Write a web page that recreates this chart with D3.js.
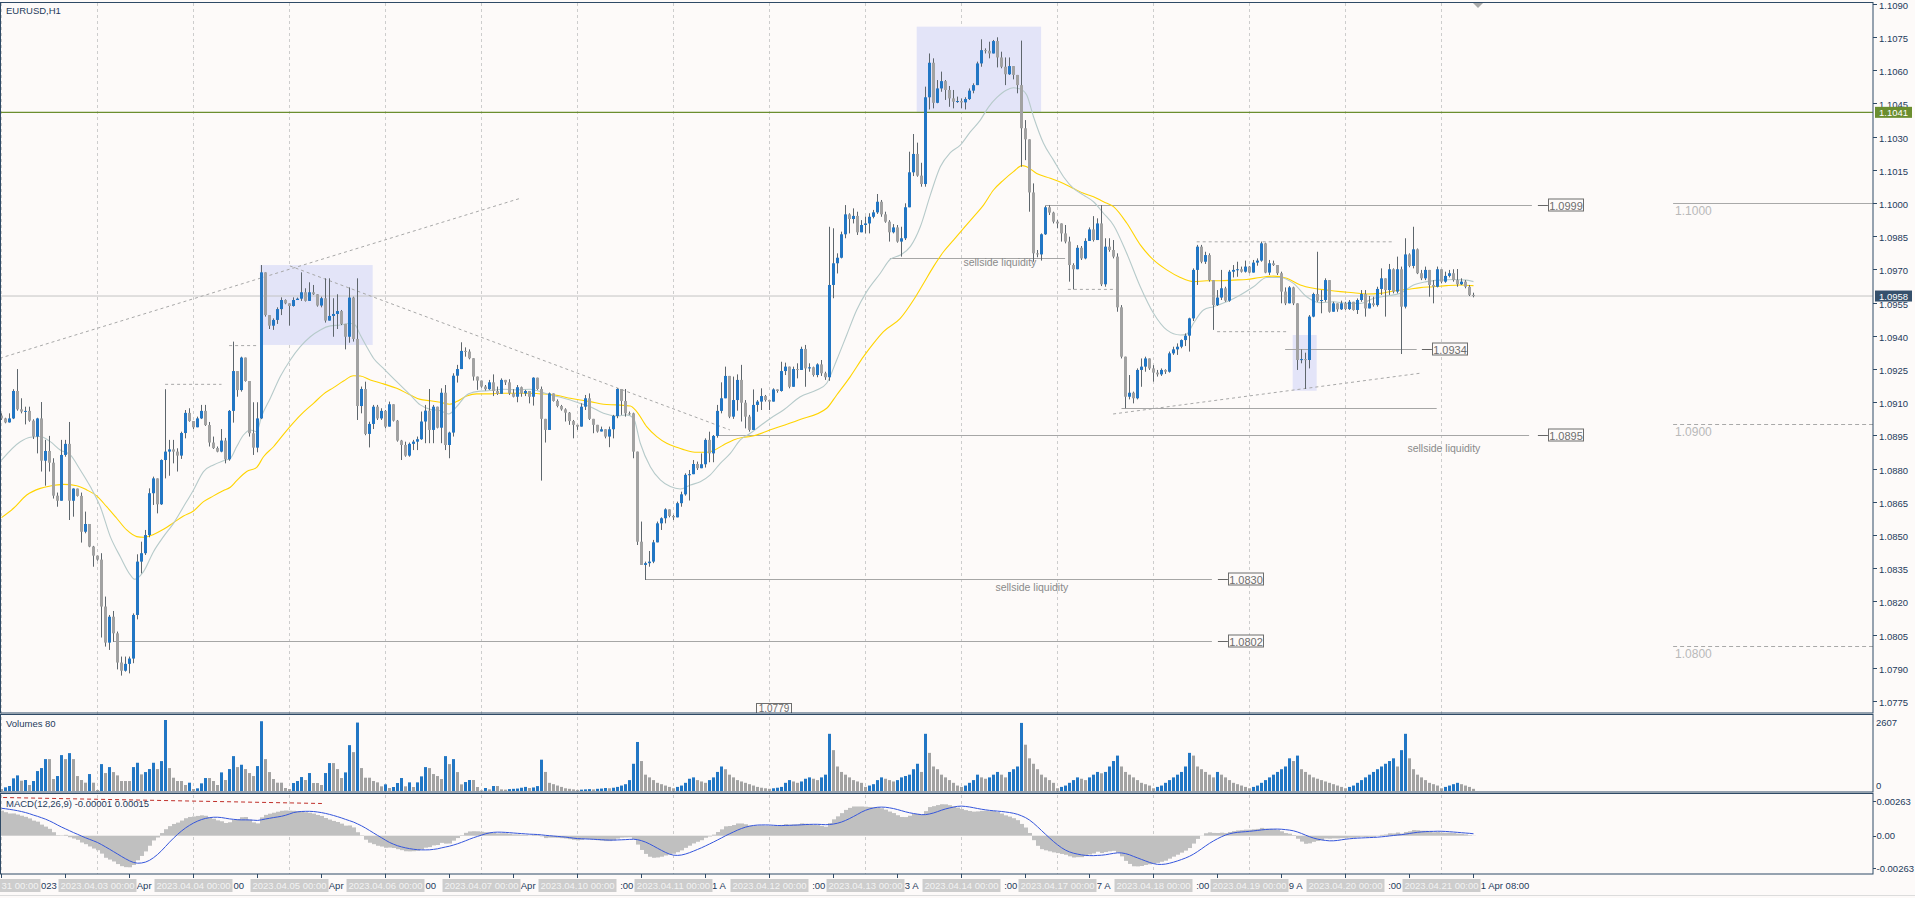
<!DOCTYPE html>
<html><head><meta charset="utf-8"><title>EURUSD,H1</title>
<script src="https://cdn.jsdelivr.net/npm/d3@7/dist/d3.min.js"></script>
<style>
html,body{margin:0;padding:0;background:#fdfaf9;overflow:hidden;}
svg{display:block;}
text{font-family:"Liberation Sans",Arial,sans-serif;}
</style></head><body>
<svg id="chart" width="1915" height="898"></svg>
<script>
// ================= DATA (prices in pips above 1.0000, e.g. 958.0 = 1.09580) =================
const symbolTitle = "EURUSD,H1";
const dayLabels = ["2023.03.31","2023.04.03","2023.04.04","2023.04.05","2023.04.06","2023.04.07","2023.04.10","2023.04.11","2023.04.12","2023.04.13","2023.04.14","2023.04.17","2023.04.18","2023.04.19","2023.04.20","2023.04.21"];
const timeTickLabels = ["31 Mar 2023","31 Mar 16:00","3 Apr 08:00","4 Apr 00:00","4 Apr 16:00","5 Apr 08:00","6 Apr 00:00","6 Apr 16:00","7 Apr 08:00","10 Apr 00:00","10 Apr 16:00","11 Apr 08:00","12 Apr 00:00","12 Apr 16:00","13 Apr 08:00","14 Apr 00:00","14 Apr 16:00","17 Apr 08:00","18 Apr 00:00","18 Apr 16:00","19 Apr 08:00","20 Apr 00:00","20 Apr 16:00","21 Apr 08:00"];
const firstOpen = 904.0;
const closes = [
902.7,900.9,902.7,915.1,906.8,905.8,906.1,901.7,894.5,902.7,
883.6,888.0,882.7,867.8,865.5,886.2,891.2,865.5,871.0,867.7,
851.5,855.0,844.8,840.7,838.9,817.7,801.4,813.1,805.6,792.4,
788.7,791.8,794.2,813.9,838.0,841.8,850.0,868.9,875.6,863.9,
883.9,887.7,888.7,887.7,885.9,896.1,905.2,901.5,898.7,902.7,
906.1,899.7,891.8,889.3,887.7,892.7,884.2,906.1,924.1,915.5,
930.2,919.6,896.0,889.5,902.7,968.7,949.4,944.6,947.2,952.1,
956.2,954.7,953.5,956.2,956.8,959.7,955.8,959.7,958.8,953.7,
957.0,946.9,949.0,949.9,951.2,945.4,939.6,957.3,938.6,908.3,
916.0,895.7,900.2,908.0,902.7,906.1,899.0,909.1,901.7,892.7,
890.7,885.9,891.2,892.2,893.3,901.3,906.2,897.5,908.0,898.5,
914.3,890.7,896.3,922.0,925.0,933.2,932.9,929.9,921.6,919.8,
917.1,915.9,919.0,915.1,913.8,920.1,919.0,914.0,912.5,916.8,
914.0,915.1,912.5,921.1,916.0,902.5,897.5,914.0,910.6,908.3,
906.8,905.3,901.5,899.8,899.0,908.0,911.8,902.5,899.8,896.8,
897.8,894.5,897.8,903.8,916.0,910.6,905.0,905.0,887.7,847.0,
836.5,837.3,838.0,846.7,855.3,857.6,861.6,858.6,858.0,864.4,
868.4,877.2,877.5,882.1,880.2,882.0,893.0,886.9,894.8,906.1,
911.8,921.9,903.5,911.0,920.1,909.8,903.5,897.5,908.8,910.3,
912.8,911.0,910.3,915.8,915.1,924.1,926.1,917.0,925.0,924.6,
934.1,925.3,925.8,922.3,927.1,923.1,921.3,963.0,972.8,975.3,
985.9,994.9,992.8,994.2,986.8,990.1,990.8,993.8,995.8,1000.6,
994.9,991.6,986.8,989.0,982.6,984.1,998.1,1013.9,1022.2,1012.4,
1008.6,1047.8,1063.4,1045.3,1051.8,1055.1,1051.1,1047.3,1045.8,1046.1,
1045.5,1047.0,1050.8,1053.3,1063.1,1069.1,1068.8,1067.6,1073.2,1065.8,
1061.6,1058.2,1061.9,1057.9,1053.3,1033.8,1028.8,1004.8,977.3,976.8,
985.9,998.1,995.7,991.6,990.8,986.3,982.6,972.0,970.1,979.8,
975.0,982.9,988.1,983.3,990.8,963.3,980.3,978.8,975.8,952.9,
930.6,912.5,914.3,911.8,924.6,926.1,929.8,925.3,923.4,922.6,
924.6,923.8,932.1,933.9,935.1,938.1,940.1,947.9,969.8,980.3,
973.5,976.5,965.2,953.9,957.3,961.5,955.9,969.0,969.8,970.1,
969.0,971.3,968.6,973.1,974.0,981.8,968.6,972.8,972.0,968.3,
960.0,954.7,961.9,954.7,929.1,929.5,929.1,948.7,958.9,955.9,
956.2,965.2,950.9,954.7,952.0,954.7,952.1,955.4,951.7,956.2,
958.9,952.4,954.7,953.9,961.2,966.0,960.7,970.1,960.0,970.1,
953.2,976.8,971.6,979.1,968.3,966.0,969.8,963.0,962.2,970.1,
964.5,967.1,968.3,965.2,963.3,964.5,962.2,958.5,958.0];
const highs = [
905.0,903.0,905.0,915.9,925.0,911.8,908.0,908.0,902.3,903.0,
910.1,893.0,894.8,884.7,869.2,893.0,893.0,901.1,871.1,871.0,
869.2,860.6,855.0,845.1,839.5,841.8,822.2,813.9,815.7,806.4,
795.1,795.1,795.1,814.6,841.3,847.0,852.3,871.1,876.4,875.2,
884.2,915.9,893.0,893.0,889.2,896.7,906.5,907.3,900.8,903.5,
908.8,908.8,901.1,894.5,890.0,897.9,893.9,906.5,937.4,922.8,
930.6,930.2,919.0,910.0,910.0,972.0,968.0,949.1,947.9,952.9,
957.4,956.5,954.7,957.4,957.3,968.7,961.5,964.2,963.0,958.5,
957.7,966.0,966.0,957.0,958.8,951.7,945.4,961.9,957.7,966.0,
917.1,919.3,901.2,908.8,908.8,907.3,906.5,910.3,909.1,902.0,
893.0,892.2,891.8,893.0,894.5,905.8,908.8,916.0,908.8,908.0,
916.3,917.8,896.7,923.1,926.9,937.1,934.8,933.9,929.9,921.6,
917.8,917.8,920.1,922.6,917.1,920.8,920.1,920.4,915.9,917.8,
917.1,915.6,915.1,921.3,921.1,917.1,902.5,914.4,913.6,911.3,
908.8,907.3,905.6,902.0,899.8,909.5,913.3,914.0,902.0,898.7,
899.0,897.5,899.0,904.3,916.3,916.0,916.0,905.8,905.3,887.7,
856.1,838.0,842.8,847.8,856.1,858.0,862.1,861.6,859.1,865.1,
869.6,877.9,879.4,883.9,883.2,886.9,893.7,896.7,895.2,908.8,
919.0,926.1,921.9,921.6,922.6,926.9,911.0,904.3,915.8,911.0,
916.3,913.3,911.0,916.3,915.8,928.3,927.9,926.1,926.1,927.6,
935.1,935.9,927.6,926.1,927.6,929.1,923.8,989.3,988.6,977.3,
987.1,999.1,995.4,997.6,996.1,992.3,993.9,995.4,996.9,1004.1,
1001.4,996.1,992.3,990.5,990.1,989.3,999.9,1023.2,1031.2,1027.3,
1018.2,1052.6,1067.6,1065.4,1055.6,1059.4,1055.6,1052.9,1051.1,1048.1,
1047.3,1047.8,1051.8,1054.1,1063.9,1074.0,1069.9,1072.9,1073.7,1074.9,
1068.4,1065.8,1065.8,1061.9,1057.9,1073.4,1037.5,1020.2,1008.9,978.8,
986.3,998.7,999.1,996.1,992.3,990.1,990.1,984.8,972.8,981.0,
980.6,984.1,989.0,994.1,993.1,999.1,984.1,984.1,983.3,977.3,
953.9,930.6,922.3,914.8,925.3,929.8,930.6,929.8,926.8,924.6,
925.3,924.9,932.9,935.1,936.6,938.4,941.1,948.2,970.5,981.1,
981.1,978.0,977.3,965.2,960.7,969.8,962.2,969.8,972.0,973.5,
971.3,974.0,971.6,974.3,975.0,982.6,982.1,974.3,974.0,972.0,
969.0,961.9,962.5,962.2,954.7,933.9,932.4,949.4,959.5,978.0,
960.7,966.0,965.2,955.4,954.7,955.9,955.4,956.2,955.4,956.9,
960.7,960.7,958.0,957.7,962.2,970.5,966.0,972.5,970.5,975.8,
971.3,984.1,977.3,989.3,979.5,969.8,971.3,969.8,965.2,971.3,
970.1,969.0,969.8,970.1,970.2,966.0,965.2,963.0,959.5];
const lows = [
902.0,900.5,900.8,902.4,906.2,905.0,900.0,901.2,893.4,886.9,
878.7,872.3,878.7,866.5,862.8,865.5,885.4,856.8,858.3,867.4,
846.6,850.8,844.5,835.7,838.4,803.7,799.6,798.1,801.8,789.3,
786.5,788.3,787.5,792.1,811.9,832.7,841.0,849.0,863.6,859.8,
863.6,875.6,876.8,882.4,878.7,884.4,893.7,901.2,897.9,899.4,
902.4,899.3,890.0,888.9,887.4,887.4,882.4,883.6,900.8,912.5,
914.8,919.3,894.5,886.2,887.4,902.4,948.7,943.1,942.7,945.4,
949.4,954.3,944.6,953.2,956.5,955.8,955.5,956.2,958.5,953.2,
952.9,946.0,946.9,939.6,943.1,944.9,933.9,936.9,937.4,902.0,
905.0,895.1,889.6,897.9,902.0,902.0,898.2,899.0,901.3,892.2,
883.9,885.4,885.4,888.4,888.4,893.0,891.5,891.5,891.5,898.2,
891.5,888.4,884.7,894.5,918.9,925.3,930.6,929.4,919.8,915.6,
916.6,915.3,915.6,912.8,913.3,916.3,917.8,913.3,912.2,910.0,
912.5,912.8,909.5,908.5,915.6,874.6,891.8,897.5,910.3,907.7,
906.2,901.3,899.8,893.7,897.5,900.5,906.5,902.0,896.0,896.3,
897.2,893.7,889.7,893.7,902.8,904.3,903.5,904.3,884.7,845.5,
836.5,829.7,835.7,837.3,847.0,852.3,855.3,858.0,856.8,858.8,
862.8,867.8,865.6,877.6,879.4,880.2,880.5,882.9,882.9,894.0,
905.0,912.5,902.8,902.5,906.2,901.3,898.2,896.7,902.0,905.7,
906.5,910.3,906.5,910.3,914.3,914.8,922.3,916.3,920.1,920.8,
925.3,917.0,923.8,921.6,921.3,921.9,920.1,919.7,957.0,968.2,
975.0,984.1,986.3,990.8,985.6,987.5,986.3,986.3,993.1,995.1,
993.8,991.1,982.6,986.3,982.1,975.8,983.3,1012.7,1012.2,1011.9,
1007.4,1007.4,1042.3,1042.8,1045.1,1050.3,1046.6,1043.5,1042.8,1045.3,
1042.8,1042.3,1046.6,1049.6,1053.3,1061.6,1067.6,1065.4,1067.6,1061.3,
1060.9,1053.3,1057.9,1055.9,1049.6,1016.4,1019.4,996.1,973.5,975.5,
974.0,985.6,994.6,990.8,988.6,982.6,981.8,964.5,961.0,970.1,
974.3,974.6,983.3,982.6,984.1,962.5,962.2,978.0,975.0,950.9,
929.8,907.3,911.3,909.5,911.3,917.0,923.8,924.6,919.3,921.6,
921.9,922.8,923.4,931.4,931.4,934.4,935.4,932.9,946.7,963.0,
972.8,972.5,964.5,942.7,953.5,956.2,955.4,955.4,966.4,966.7,
968.6,968.6,968.3,970.5,971.7,973.5,968.3,967.5,971.6,967.5,
954.7,953.9,954.7,953.9,924.6,927.6,916.0,925.3,948.4,955.4,
950.2,955.4,950.5,951.7,950.9,951.7,951.7,951.7,951.4,949.9,
955.4,948.7,953.2,953.2,953.2,958.5,948.7,958.5,959.2,959.2,
931.8,952.4,971.0,970.5,967.9,965.2,965.2,957.7,954.7,961.9,
963.7,964.0,966.4,964.5,962.2,963.0,961.5,958.0,957.4];
const volumes = [
73,134,183,464,573,378,403,220,366,732,
842,1171,1171,439,549,1318,1171,1391,1171,549,
403,305,622,305,37,988,659,878,695,573,
366,366,366,878,1037,610,695,805,1037,805,
1098,2607,842,488,366,366,220,305,73,98,
281,476,476,366,220,683,403,805,1281,878,
964,805,659,549,915,2562,1171,695,439,305,
305,110,73,293,366,512,403,659,293,293,
220,659,1025,1025,805,476,683,1684,1427,2513,
842,488,488,366,317,171,244,110,146,293,
476,171,317,146,317,537,878,842,622,549,
439,1281,988,1171,695,244,329,403,403,146,
24,110,61,183,183,60,50,70,80,90,
120,150,110,130,180,1150,700,300,250,200,
150,100,80,60,40,50,60,70,60,80,
90,110,100,120,150,200,250,400,1000,1800,
1100,600,500,400,300,250,200,150,100,150,
200,300,450,500,400,350,300,400,500,700,
900,800,600,500,400,350,300,250,200,150,
120,100,80,100,120,150,300,400,350,300,
350,450,500,450,400,500,600,2100,1500,900,
700,600,500,400,350,300,150,200,250,400,
500,450,400,350,400,500,550,600,800,1000,
700,2100,1400,900,800,600,500,400,300,200,
150,200,300,400,600,500,450,500,600,700,
600,500,700,800,900,2500,1700,1200,1000,800,
600,500,400,300,100,150,200,300,400,500,
450,400,500,600,700,650,700,900,1100,1300,
900,700,600,500,400,300,250,200,100,150,
200,300,400,500,600,700,900,1400,1300,900,
800,700,600,500,700,600,500,400,300,250,
200,150,100,150,200,300,400,500,600,700,
800,900,1200,1100,1300,800,700,600,500,450,
400,350,300,250,200,150,100,150,200,300,
400,500,600,700,800,900,1000,1100,1200,900,
1500,2100,1200,800,600,500,400,300,250,200,
100,150,200,250,300,250,200,150,80];
// moving averages: [bar index, pips]
const maFast = [[0,883.9],[4.7,892.2],[7.2,894.2],[9.7,894.5],[12.2,892.2],[14.7,888.4],[17.2,886.2],[19.7,879.4],[22.2,871.9],[24.7,862.8],[27.2,849.3],[29.7,840.2],[32.2,832.0],[33.3,830.0],[35.5,833.5],[38,842.5],[40.5,849.3],[43,855.3],[45.5,862.8],[48,870.4],[50.5,878.7],[53,881.7],[55.5,883.6],[57.2,884.7],[58.8,890.0],[60.5,895.2],[62.2,897.5],[63.8,896.7],[65,903.5],[67.2,911.8],[69.7,921.6],[72.2,929.1],[74.7,935.1],[77.2,939.6],[79.7,942.7],[82.2,944.5],[84.7,944.9],[87.2,945.7],[88.4,944.9],[89.7,940.4],[91.3,935.1],[93,929.9],[95.5,925.3],[98.8,919.3],[102.2,913.3],[104.7,908.8],[107.2,906.8],[109.7,906.2],[111.8,904.7],[113.8,908.0],[116.3,913.3],[118.8,914.8],[122.2,915.3],[125.5,915.9],[128.8,915.6],[132.2,915.9],[134.7,914.8],[137.2,913.3],[139.7,912.3],[142.2,911.0],[144.7,909.5],[147.2,908.0],[150.5,905.0],[153.8,903.8],[156.3,904.3],[158,902.8],[159.7,891.5],[162.2,880.9],[164.7,874.9],[167.2,871.9],[169.7,870.8],[172.2,872.6],[174.7,874.1],[177.2,877.2],[179.7,882.4],[182.2,886.9],[184.7,893.0],[187.2,896.0],[192.2,902.7],[195.5,906.5],[199.7,912.5],[203.8,915.5],[206.3,918.6],[208.8,929.1],[211.3,940.4],[213.8,951.7],[216.3,960.0],[219.7,968.3],[222.2,974.6],[224.7,976.5],[227.2,980.3],[229.7,989.3],[232.2,1003.6],[234.7,1016.4],[237.2,1022.8],[239.7,1026.2],[242.2,1032.2],[244.7,1037.5],[246.8,1043.5],[248.8,1047.6],[251.3,1051.1],[253,1052.1],[254.7,1051.5],[256.3,1048.8],[258,1039.0],[260.5,1027.0],[263,1019.4],[265.5,1011.9],[268,1006.6],[270.5,1003.6],[273,1000.6],[275.5,995.4],[278,990.0],[281.3,977.3],[284.7,962.2],[288,950.2],[291.3,942.7],[294.7,940.4],[296.3,940.8],[298,945.7],[300.5,951.7],[303,953.2],[306.3,955.4],[309.7,958.5],[313,962.2],[316.3,966.4],[319.7,966.4],[323,963.7],[326.3,957.7],[329.7,955.0],[333,955.4],[336.3,954.7],[339.7,954.7],[343,956.9],[346.3,958.0],[349.7,959.2],[353,963.0],[356.3,964.5],[359.7,965.2],[363,965.5],[366.3,965.2],[368,964.5]];
const maSlow = [[0,857.9],[3,862.1],[6.3,868.1],[9.7,871.1],[12.2,872.2],[15.5,872.9],[18.8,872.3],[21.3,870.4],[23.8,867.7],[26.3,862.8],[28.8,857.6],[31.3,852.3],[33.8,849.3],[35.5,849.0],[38,850.3],[40.5,852.6],[43,855.6],[45.5,858.6],[48,860.9],[50.5,865.1],[53,867.7],[55.5,870.1],[57.2,871.6],[58.8,874.6],[61.3,878.7],[63.8,880.6],[65.5,885.4],[68,889.9],[70.5,895.5],[73,900.8],[75.5,905.5],[78,909.5],[80.5,913.7],[83,916.6],[85.5,919.6],[88,922.0],[89.7,921.9],[92.2,920.1],[95.5,918.3],[98.8,916.3],[102.2,913.3],[104.7,911.3],[107.2,910.7],[109.7,910.0],[112,909.1],[113.8,910.3],[116.3,912.8],[118.8,913.8],[122.2,913.8],[125.5,914.1],[128.8,914.1],[132.2,914.1],[134.7,913.8],[137.2,913.6],[139.7,912.8],[142.2,911.8],[144.7,911.0],[147.2,910.3],[150.5,909.1],[153.8,908.8],[157.2,908.3],[158.8,905.8],[161.3,899.0],[163.8,894.5],[166.3,891.5],[168.8,889.7],[171.3,888.2],[173.8,887.4],[176.3,887.4],[178,888.2],[180.5,890.7],[183,893.0],[185.5,894.2],[187.2,894.5],[193,898.0],[199.3,902.0],[206.3,907.3],[208.8,913.3],[212.2,921.6],[215.5,930.6],[218,936.6],[220.5,941.9],[224.7,947.9],[228,956.2],[230.5,963.7],[233,971.3],[235.5,978.0],[238,983.3],[240.5,988.6],[243,993.8],[245.5,999.1],[248,1005.9],[250.5,1010.4],[253,1014.2],[255.1,1016.9],[256.3,1016.4],[258.8,1013.4],[262.2,1011.2],[265.5,1008.9],[268,1006.6],[270.5,1004.4],[273,1002.9],[275.5,1000.6],[278,998.4],[281.3,991.0],[284.7,981.1],[288,974.3],[291.3,969.8],[294.7,966.4],[298,964.5],[301.3,964.9],[304.7,964.9],[308,965.2],[311.3,965.5],[314.7,966.4],[318,967.0],[321.3,966.0],[324.7,963.0],[328,961.5],[331.3,960.7],[334.7,960.0],[338,959.5],[341.3,958.9],[344.7,959.2],[348,960.3],[351.3,961.0],[354.7,961.8],[358,962.2],[361.3,962.7],[364.7,963.0],[368,962.7]];
const priceTicks = [1.1090,1.1075,1.1060,1.1045,1.1030,1.1015,1.1000,1.0985,1.0970,1.0955,1.0940,1.0925,1.0910,1.0895,1.0880,1.0865,1.0850,1.0835,1.0820,1.0805,1.0790,1.0775];
const volumeMax = 2607;
const macdTicks = [0.00263, 0, -0.00263];
const macdSeed = {ema12: 1.0897, ema26: 1.0877, signal: 0.0021};
const macdLabel = "MACD(12,26,9) -0.00001 0.00015";
const volumeLabel = "Volumes 80";
const greenLevel = 1.1041, bidLevel = 1.0958;
// price-labelled trend lines: price, from bar, to bar, label box start bar
const taggedLevels = [
  {price:1.0999, from:260.9, to:382.6, tag:386.6},
  {price:1.0895, from:178.9, to:381.9, tag:386.6},
  {price:1.0934, from:320.9, to:353.8, tag:357.6},
  {price:1.0830, from:160.9, to:302.6, tag:306.6},
  {price:1.0802, from:27.9,  to:302.6, tag:306.6}
];
const plainLevels = [ {price:1.0975, from:222.1, to:265.9}, {price:1.09073, from:280, to:358.8} ];
const dashedLines = [
  [[-0.4,1.09299],[129.6,1.10021]],
  [[72.1,1.09716],[182.1,1.08975]],
  [[56.9,1.09356],[63.8,1.09356]],
  [[40.9,1.09181],[55.0,1.09181]],
  [[266.6,1.09610],[279.6,1.09610]],
  [[298.8,1.09825],[347.9,1.09825]],
  [[303.9,1.09419],[321.3,1.09419]],
  [[277.9,1.09047],[354.6,1.09231]]
];
const zones = [ [64.6,92.8,1.09720,1.09359], [228.8,259.9,1.10797,1.1041], [322.8,328.8,1.09404,1.09152] ];
const roundLevels = [ {price:1.1000, dashed:false}, {price:1.0900, dashed:true}, {price:1.0800, dashed:true} ];
const roundFromBar = 417.9;
const sellsideNotes = [ {bar:249.6, price:1.09715}, {bar:257.6, price:1.08245}, {bar:360.6, price:1.08875} ];
const macdTrend = [[0.4,0.002895],[80.1,0.00244]];

// ================= DRAWING =================
const PIP = 0.0001, toP = v => 1 + v*PIP;
const N = closes.length;
const BG = "#fdfaf9", FRAME = "#2f4a66", AXT = "#1d3a5c";
const AXIS_X = 1873;
const svg = d3.select("#chart");
const x = d3.scaleLinear().domain([0, 368]).range([1.5, 1473.5]);
const y = d3.scaleLinear().domain([1.07696, 1.10904]).range([713, 3]);
const vy = d3.scaleLinear().domain([0, volumeMax]).range([791, 720]);
const my = d3.scaleLinear().domain([-0.0029, 0.00316]).range([874, 794]);

svg.append("rect").attr("width",1915).attr("height",898).attr("fill",BG);
const defs = svg.append("defs");
[["cMain",0,3,AXIS_X,710],["cVol",0,715,AXIS_X,77],["cMacd",0,794,AXIS_X,80]].forEach(([id,a,b,w,h])=>
  defs.append("clipPath").attr("id",id).append("rect").attr("x",a).attr("y",b).attr("width",w).attr("height",h));

// day separators
const sep = svg.append("g");
dayLabels.forEach((d,k)=>{
  const xx = x(24*k);
  sep.append("line").attr("x1",xx).attr("x2",xx).attr("y1",3).attr("y2",874)
    .attr("stroke","#cdcdcd").attr("stroke-dasharray","3,3");
});

const gm = svg.append("g").attr("clip-path","url(#cMain)");
zones.forEach(([b0,b1,p0,p1])=>{
  gm.append("rect").attr("x",x(b0)).attr("y",y(p0)).attr("width",x(b1)-x(b0)).attr("height",y(p1)-y(p0)).attr("fill","#e3e4f8");
});
gm.append("line").attr("x1",0).attr("x2",AXIS_X).attr("y1",y(bidLevel)).attr("y2",y(bidLevel)).attr("stroke","#c3c3c3");
gm.append("line").attr("x1",0).attr("x2",AXIS_X).attr("y1",y(greenLevel)).attr("y2",y(greenLevel)).attr("stroke","#6b8e2f").attr("stroke-width",1.2);
roundLevels.forEach(r=>{
  const yy = Math.round(y(r.price))+0.5;
  gm.append("line").attr("x1",x(roundFromBar)).attr("x2",AXIS_X).attr("y1",yy).attr("y2",yy)
    .attr("stroke","#a9a9a9").attr("stroke-dasharray",r.dashed?"4,3":null);
  gm.append("text").attr("x",x(roundFromBar)+2).attr("y",yy+11.5).attr("font-size",12).attr("fill","#b9b9b9").text(r.price.toFixed(4));
});
plainLevels.forEach(l=>{
  const yy = Math.round(y(l.price))+0.5;
  gm.append("line").attr("x1",x(l.from)).attr("x2",x(l.to)).attr("y1",yy).attr("y2",yy).attr("stroke","#a6a6a6");
});
taggedLevels.forEach(l=>{
  const yy = Math.round(y(l.price))+0.5;
  gm.append("line").attr("x1",x(l.from)).attr("x2",x(l.to)).attr("y1",yy).attr("y2",yy).attr("stroke","#a6a6a6");
  const tx = x(l.tag);
  gm.append("line").attr("x1",tx-10).attr("x2",tx).attr("y1",yy).attr("y2",yy).attr("stroke","#666");
  gm.append("rect").attr("x",Math.round(tx)+0.5).attr("y",yy-6.5).attr("width",35).attr("height",12).attr("fill",BG).attr("stroke","#6d6d6d");
  gm.append("text").attr("x",Math.round(tx)+18).attr("y",yy+4.5).attr("text-anchor","middle").attr("font-size",11).attr("fill","#6d6d6d").text(l.price.toFixed(4));
});
dashedLines.forEach(seg=>{
  gm.append("line").attr("x1",x(seg[0][0])).attr("y1",y(seg[0][1])).attr("x2",x(seg[1][0])).attr("y2",y(seg[1][1]))
    .attr("stroke","#a8a8a8").attr("stroke-dasharray","3,3");
});
gm.append("rect").attr("x",756.5).attr("y",703.5).attr("width",35).attr("height",12).attr("fill",BG).attr("stroke","#6d6d6d");
gm.append("text").attr("x",774).attr("y",712).attr("text-anchor","middle").attr("font-size",10).attr("fill","#6d6d6d").text("1.0779");
sellsideNotes.forEach(n=>{
  gm.append("text").attr("x",x(n.bar)).attr("y",y(n.price)).attr("text-anchor","middle").attr("font-size",10.5).attr("fill","#8a8a8a").text("sellside liquidity");
});
const maLine = d3.line().x(d=>x(d[0])).y(d=>y(toP(d[1]))).curve(d3.curveMonotoneX);
gm.append("path").attr("d",maLine(maSlow)).attr("fill","none").attr("stroke","#ffd400").attr("stroke-width",1.1);
gm.append("path").attr("d",maLine(maFast)).attr("fill","none").attr("stroke","#b6caca").attr("stroke-width",1.1);
const candles = closes.map((c,i)=>{
  const o = i ? closes[i-1] : firstOpen;
  return {i, o, c, h: Math.max(highs[i],o,c), l: Math.min(lows[i],o,c)};
});
const cg = gm.append("g");
cg.selectAll("line.w").data(candles).join("line").attr("class","w")
  .attr("x1",d=>x(d.i)).attr("x2",d=>x(d.i)).attr("y1",d=>y(toP(d.h))).attr("y2",d=>y(toP(d.l)))
  .attr("stroke","#5e666c").attr("stroke-width",1);
cg.selectAll("rect").data(candles).join("rect")
  .attr("x",d=>x(d.i)-1.5).attr("width",3)
  .attr("y",d=>y(toP(Math.max(d.o,d.c))))
  .attr("height",d=>Math.max(1, y(toP(Math.min(d.o,d.c)))-y(toP(Math.max(d.o,d.c)))))
  .attr("fill",d=>d.c>d.o?"#2176c4":"#a2a2a2");
svg.append("path").attr("d","M1473,3 L1483,3 L1478,8 Z").attr("fill","#a9a9a9");

// volumes
const gv = svg.append("g").attr("clip-path","url(#cVol)");
gv.selectAll("rect").data(volumes).join("rect")
  .attr("x",(v,i)=>x(i)-1.5).attr("width",3)
  .attr("y",v=>vy(v)).attr("height",v=>vy(0)-vy(v))
  .attr("fill",(v,i)=> i>0 && v>volumes[i-1] ? "#2176c4" : "#a2a2a2");

// MACD (computed from the closes above)
const macdMain=[], macdSignal=[];
let e12=macdSeed.ema12, e26=macdSeed.ema26;
closes.forEach(c=>{const p=toP(c); e12+=(p-e12)*2/13; e26+=(p-e26)*2/27; macdMain.push(e12-e26);});
for(let i=0;i<N;i++){let s=0; for(let k=i-8;k<=i;k++) s += k>=0?macdMain[k]:macdSeed.signal; macdSignal.push(s/9);}
const gd = svg.append("g").attr("clip-path","url(#cMacd)");
gd.selectAll("rect").data(macdMain).join("rect")
  .attr("x",(v,i)=>x(i)-1.5).attr("width",4)
  .attr("y",v=>Math.min(my(v),my(0))).attr("height",v=>Math.abs(my(v)-my(0)))
  .attr("fill","#c0c0c0");
gd.append("path").attr("d",d3.line().x((v,i)=>x(i)).y(v=>my(v))(macdSignal)).attr("fill","none").attr("stroke","#3556dc").attr("stroke-width",1);
gd.append("line").attr("x1",x(macdTrend[0][0])).attr("y1",my(macdTrend[0][1])).attr("x2",x(macdTrend[1][0])).attr("y2",my(macdTrend[1][1]))
  .attr("stroke","#c0302a").attr("stroke-dasharray","4,3");

// panel frames
[[2.5,710.5],[714.5,77.5],[793.5,80.5]].forEach(([t,h])=>{
  svg.append("rect").attr("x",0.5).attr("y",t).attr("width",AXIS_X-0.5).attr("height",h).attr("fill","none").attr("stroke",FRAME);
});
svg.append("text").attr("x",6).attr("y",14).attr("font-size",9.5).attr("fill",AXT).text(symbolTitle);
svg.append("text").attr("x",6).attr("y",727).attr("font-size",9.5).attr("fill",AXT).text(volumeLabel);
svg.append("text").attr("x",6).attr("y",807).attr("font-size",9.5).attr("fill",AXT).text(macdLabel);

// right price axis
const ra = svg.append("g");
priceTicks.forEach(p=>{
  const yy = Math.round(y(p))+0.5;
  ra.append("line").attr("x1",AXIS_X).attr("x2",AXIS_X+4).attr("y1",yy).attr("y2",yy).attr("stroke",FRAME);
  ra.append("text").attr("x",AXIS_X+6).attr("y",yy+4).attr("font-size",9.5).attr("fill",AXT).text(p.toFixed(4));
});
function priceTag(p, fill){
  const yy = y(p);
  ra.append("rect").attr("x",AXIS_X+2).attr("y",yy-5.5).attr("width",37).attr("height",11).attr("fill",fill);
  ra.append("text").attr("x",AXIS_X+6).attr("y",yy+4).attr("font-size",9.5).attr("fill","#ffffff").text(p.toFixed(4));
}
priceTag(greenLevel,"#6b8e2f");
priceTag(bidLevel,"#35506c");
ra.append("text").attr("x",AXIS_X+3).attr("y",726).attr("font-size",9.5).attr("fill",AXT).text(String(volumeMax));
ra.append("text").attr("x",AXIS_X+3).attr("y",789).attr("font-size",9.5).attr("fill",AXT).text("0");
macdTicks.forEach((v,k)=>{
  const yy = k===0?801:(k===1?my(0):868.3);
  ra.append("line").attr("x1",AXIS_X).attr("x2",AXIS_X+3).attr("y1",Math.round(yy)+0.5).attr("y2",Math.round(yy)+0.5).attr("stroke",FRAME);
  ra.append("text").attr("x",AXIS_X+3.5).attr("y",yy+3.5).attr("font-size",9.5).attr("fill",AXT).text(v===0?"0.00":v.toFixed(5));
});

// time axis: tick labels partly hidden behind the day-separator tags; only the visible characters are kept
const ta = svg.append("g");
const tagBoxes = dayLabels.map((d,k)=>[Math.max(0, x(24*k)-39), x(24*k)+39]);
function visibleRuns(sel, str, isHidden){
  const node = sel.node(); const runs=[]; let cur=null;
  for(let c=0;c<str.length;c++){
    const e = node.getExtentOfChar(c);
    if(!isHidden(e.x, e.x+e.width)){
      if(cur && cur.end===c) cur.end=c+1; else { cur={start:c,end:c+1,x:e.x}; runs.push(cur); }
    }
  }
  sel.remove();
  return runs.map(r=>({x:r.x, s:str.slice(r.start,r.end)})).filter(r=>r.s.trim().length);
}
timeTickLabels.forEach((t,k)=>{
  const xx = x(16*k);
  ta.append("line").attr("x1",xx).attr("x2",xx).attr("y1",874).attr("y2",878).attr("stroke",FRAME);
  const tmp = ta.append("text").attr("x",xx+2).attr("y",889).attr("font-size",9.5).text(t);
  visibleRuns(tmp, t, (a,b)=> tagBoxes.some(([l,r])=> b>l+0.5 && a<r-0.5)).forEach(r=>{
    ta.append("text").attr("x",r.x).attr("y",889).attr("font-size",9.5).attr("fill",AXT).text(r.s);
  });
});
dayLabels.forEach((d,k)=>{
  const [l,r] = tagBoxes[k];
  ta.append("rect").attr("x",l).attr("y",879).attr("width",r-l).attr("height",13).attr("fill","#cdcdcd");
  const str = d+" 00:00";
  const tmp = ta.append("text").attr("x",x(24*k)).attr("y",889).attr("text-anchor","middle").attr("font-size",9.5).text(str);
  visibleRuns(tmp, str, (a,b)=> a < 0.5).forEach(rr=>{
    ta.append("text").attr("x",rr.x).attr("y",889).attr("font-size",9.5).attr("fill","#f3f3f3").text(rr.s);
  });
});
svg.append("line").attr("x1",0).attr("x2",1915).attr("y1",895.5).attr("y2",895.5).attr("stroke","#dcdcdc");
</script>
</body></html>
